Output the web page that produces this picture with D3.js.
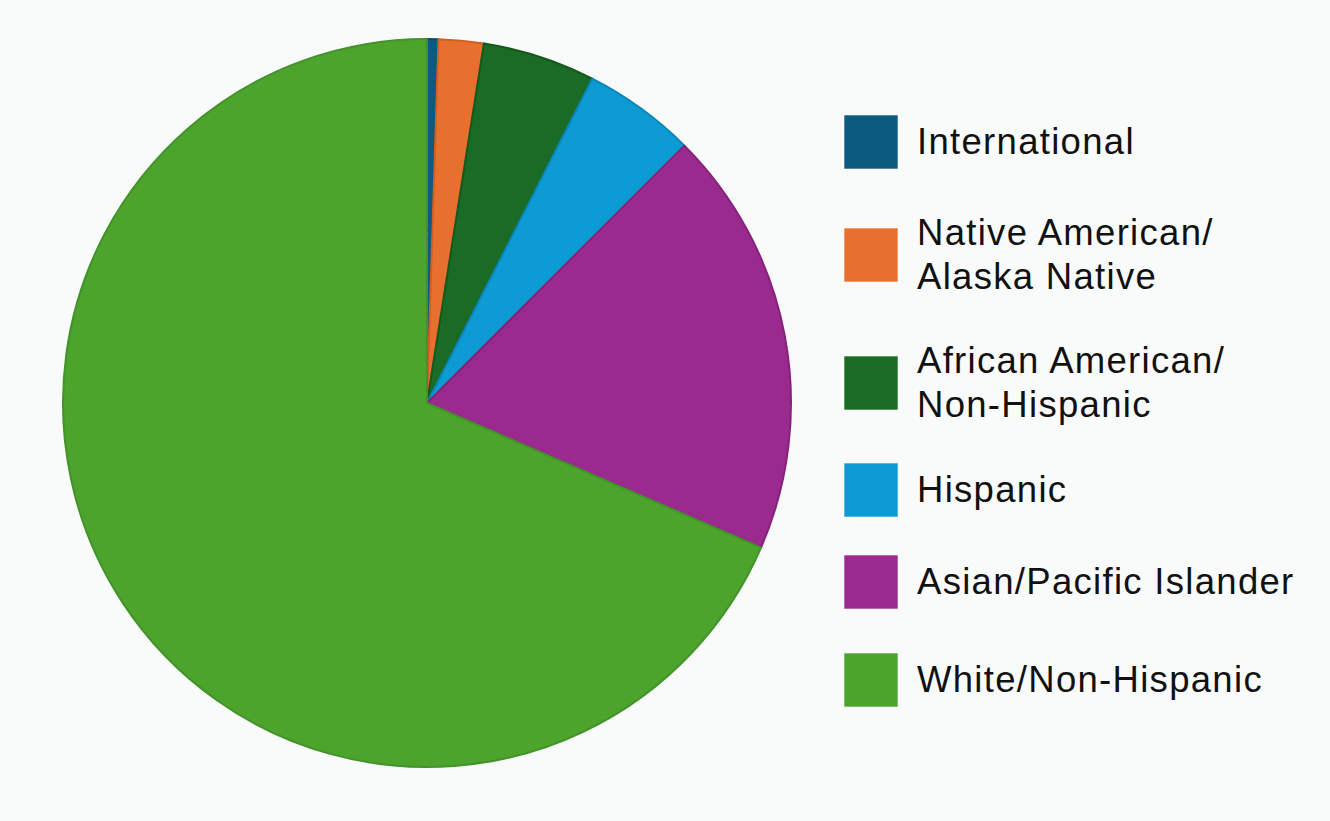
<!DOCTYPE html>
<html>
<head>
<meta charset="utf-8">
<script src="https://cdn.jsdelivr.net/npm/d3@7"></script>
<style>
  html, body { margin: 0; padding: 0; background: #f9fbfb; }
  svg { display: block; }
</style>
</head>
<body>
<div id="chart"></div>
<script>
// slice data, clockwise from 12 o'clock
const categories = ['International', 'Native American/\nAlaska Native', 'African American/\nNon-Hispanic', 'Hispanic', 'Asian/Pacific Islander', 'White/Non-Hispanic'];
const shares = [0.5, 2.0, 5.0, 5.0, 19.0, 68.5];
const colors = ['#0d5a80', '#e8702f', '#1a6b25', '#0e9bd3', '#9b2a8f', '#4ca42d'];
const strokes = ['#0a4a6a', '#cf5f24', '#15591e', '#0b86b8', '#86227b', '#43922a'];

const width = 1330, height = 821;
const cx = 427, cy = 403, radius = 365;

const svg = d3.select('#chart').append('svg')
  .attr('width', width).attr('height', height);

svg.append('rect').attr('width', width).attr('height', height).attr('fill', '#f9fbfb');

const rows = categories.map((c, i) => ({ name: c, value: shares[i], i }));

const pie = d3.pie().sort(null).value(d => d.value);
const arc = d3.arc().innerRadius(0).outerRadius(radius - 1);

const g = svg.append('g').attr('transform', `translate(${cx},${cy})`);
g.selectAll('path')
  .data(pie(rows))
  .enter().append('path')
  .attr('d', arc)
  .attr('fill', d => colors[d.data.i])
  .attr('stroke', d => strokes[d.data.i])
  .attr('stroke-width', 2)
  .attr('stroke-linejoin', 'round');

// legend
const legendSwatchX = 844, legendTextX = 917, swatch = 54;
const baselines = [154, 245, 373, 502, 594, 692]; // first-line baseline per entry
const lineH = 44;

const legend = svg.append('g').attr('class', 'legend');
rows.forEach((r, i) => {
  const lines = r.name.split('\n');
  const top = baselines[i] - 26;
  const bottom = baselines[i] + (lines.length - 1) * lineH;
  const mid = (top + bottom) / 2;
  legend.append('rect')
    .attr('x', legendSwatchX)
    .attr('y', mid - swatch / 2 + 1)
    .attr('width', swatch)
    .attr('height', swatch)
    .attr('fill', colors[i])
    .attr('stroke', '#ffffff')
    .attr('stroke-opacity', 0.6)
    .attr('stroke-width', 1);
  const t = legend.append('text')
    .attr('x', legendTextX)
    .attr('y', baselines[i])
    .style('font-family', '"Liberation Sans", Arial, Helvetica, sans-serif')
    .style('font-size', '36.5px')
    .style('letter-spacing', '1.3px')
    .attr('fill', '#111');
  lines.forEach((ln, k) => {
    t.append('tspan').attr('x', legendTextX).attr('y', baselines[i] + k * lineH).text(ln);
  });
});
</script>
</body>
</html>
